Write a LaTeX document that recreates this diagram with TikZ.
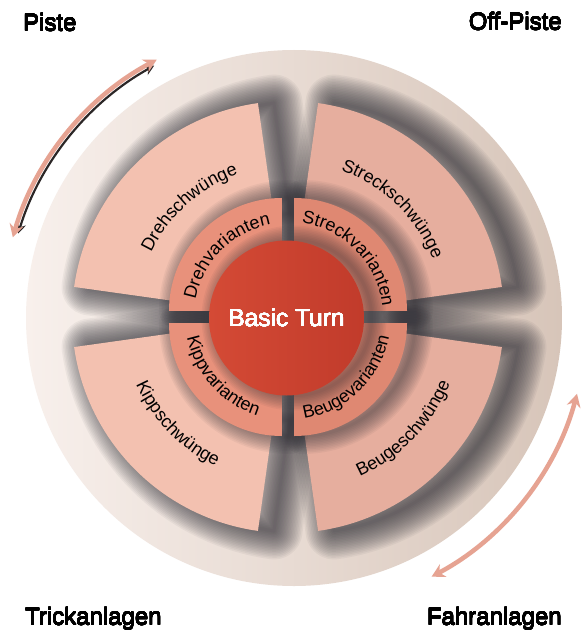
\documentclass[tikz,border=0pt]{standalone}
\usepackage{fontspec}
\setmainfont{Liberation Sans}
\usepackage{contour}
\contourlength{0.08pt}
\contournumber{16}
\usetikzlibrary{arrows.meta, decorations.text}
\definecolor{scheibehell}{HTML}{F8F0EC}
\definecolor{scheibemitte}{HTML}{EBDCD2}
\definecolor{scheibedunkel}{HTML}{D7C5B9}
\definecolor{schwunglinks}{HTML}{F3C1B0}
\definecolor{schwungrechts}{HTML}{E6AE9E}
\definecolor{variantelinks}{HTML}{E8917B}
\definecolor{varianterechts}{HTML}{DF8872}
\definecolor{turnhell}{HTML}{D44A35}
\definecolor{turndunkel}{HTML}{C13B2B}
\definecolor{pfeilrosa}{HTML}{E6A392}
\definecolor{pfeilschatten}{HTML}{2B2626}
\definecolor{schattengrau}{HTML}{2A2A32}
% Sektorpfade um den Mittelpunkt
\newcommand\schwungpfad[1]{(#1+8:105) arc[start angle=#1+8, end angle=#1+82, radius=105]
    -- (#1+82:216) arc[start angle=#1+82, end angle=#1+8, radius=216] -- cycle}
\newcommand\variantenpfad[1]{([shift={(#1+45:8.5)}]#1:60) arc[start angle=#1, end angle=#1+90, radius=60]
    -- ([shift={(#1+45:8.5)}]#1+90:113) arc[start angle=#1+90, end angle=#1, radius=113] -- cycle}

\begin{document}
\begin{tikzpicture}[x=1pt, y=1pt,
    schattenstrich/.style={schattengrau, draw opacity=0.05, line join=round},
    bogentext/.style={decorate, decoration={text along path, text align=center, text={|\fontsize{18}{18}\selectfont|#1}}},
    ecke/.style={font=\fontsize{24}{24}\selectfont, inner sep=0pt},
    doppelpfeil/.style={line width=4.5pt, {Stealth[length=13pt, width=14pt]}-{Stealth[length=13pt, width=14pt]}}]
    % Rahmen und Hintergrund
    \useasboundingbox (0,0) rectangle (584,-634);
    \fill[white] (0,0) rectangle (584,-634);
    \begin{scope}[shift={(288,-317)}]
    \shade[left color=scheibehell, middle color=scheibemitte, right color=scheibedunkel] (6,-1) circle[radius=268];
    % Schatten der Schwünge
    \foreach \q in {0,90,180,270} {
        \foreach \b in {3,6,...,57} {
            \draw[schattenstrich, line width=\b pt, xshift=16pt] \schwungpfad{\q};
        }
    }
    % Schwünge (aussen)
    \foreach \q/\farbe in {0/schwungrechts, 90/schwunglinks, 180/schwunglinks, 270/schwungrechts} {
        \fill[\farbe] \schwungpfad{\q};
    }
    % Schatten der Varianten
    \foreach \q in {0,90,180,270} {
        \foreach \b in {3,6,...,36} {
            \draw[schattenstrich, line width=\b pt, xshift=8pt] \variantenpfad{\q};
        }
    }
    % Varianten (innen)
    \foreach \q/\farbe in {0/varianterechts, 90/variantelinks, 180/variantelinks, 270/varianterechts} {
        \fill[\farbe] \variantenpfad{\q};
    }
    % Beschriftung der Sektoren
    \foreach \w/\rad/\t in {132/151/Drehschwünge, 46/156/Streckschwünge, 135/94/Drehvarianten, 44/95/Streckvarianten} {
        \path[bogentext/.expand once=\t] (\w+45:\rad) arc[start angle=\w+45, end angle=\w-45, radius=\rad];
    }
    \foreach \w/\rad/\t in {224/166/Kippschwünge, 316/175/Beugeschwünge, 222/103/Kippvarianten, 314/103/Beugevarianten} {
        \path[bogentext/.expand once=\t] (\w-45:\rad) arc[start angle=\w-45, end angle=\w+45, radius=\rad];
    }
    % Kern mit Schatten
    \foreach \b in {3,6,...,30} {
        \draw[schattenstrich, line width=\b pt] (6,-1) circle[radius=77.5];
    }
    \node[circle, minimum size=155pt, inner sep=0pt, left color=turnhell, right color=turndunkel,
        text=white, font=\fontsize{24.5}{24.5}\selectfont] (turn) at (-1.5,-1) {\contour{white}{Basic Turn}};
    % Pfeile
    \draw[pfeilschatten, line width=2.2pt, {Stealth[length=10pt, width=10pt]}-{Stealth[length=10pt, width=10pt]}]
        ([shift={(6,-1)}]163:288.5) arc[start angle=163, end angle=119, radius=288.5];
    \draw[pfeilrosa, doppelpfeil] ([shift={(6,-1)}]164:292.5) arc[start angle=164, end angle=118, radius=292.5];
    \draw[pfeilrosa, doppelpfeil] ([shift={(6,-1)}]-15:293) arc[start angle=-15, end angle=-62, radius=293];
    \end{scope}
    % Ecken
    \node[ecke, anchor=base west] (piste) at (23,-31) {\contour{black}{Piste}};
    \node[ecke, anchor=base east] (offpiste) at (562,-30) {\contour{black}{Off-Piste}};
    \node[ecke, anchor=base west] (trick) at (25,-625) {\contour{black}{Trickanlagen}};
    \node[ecke, anchor=base east] (fahr) at (562,-625) {\contour{black}{Fahranlagen}};
\end{tikzpicture}
\end{document}
